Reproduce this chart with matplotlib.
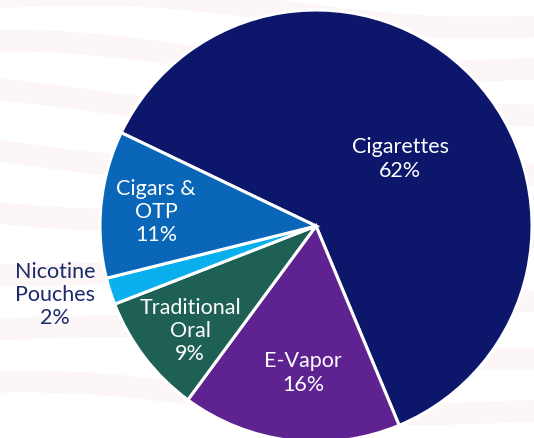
import numpy as np
import matplotlib
matplotlib.use("Agg")
import matplotlib.pyplot as plt

# ---- data ----
categories = ["Cigarettes", "E-Vapor", "Traditional\nOral", "Nicotine\nPouches", "Cigars &\nOTP"]
values = [61.6, 16.4, 9.0, 2.0, 11.0]
pct_labels = ["62%", "16%", "9%", "2%", "11%"]
colors = ["#0c176c", "#5e2390", "#1f6055", "#0ab0ee", "#0a66b8"]

# ---- layout (pixel coords, y up) ----
W, H = 534, 439
center = (316, 439 - 227)
radius = 216
label_pos = [(400, 439 - 159), (303, 439 - 373), (190, 439 - 331),
             (55, 439 - 295), (156, 439 - 212)]
label_colors = ["white", "white", "white", "#1b2a6b", "white"]

plt.rcParams['font.family'] = ['Lato', 'DejaVu Sans']

fig = plt.figure(figsize=(W / 100, H / 100), dpi=100)
ax = fig.add_axes([0, 0, 1, 1])
ax.set_xlim(0, W)
ax.set_ylim(0, H)
ax.set_aspect('equal')
ax.axis('off')

# faint flag-like stripes in background
xs = np.linspace(0, W, 200)
for k, base in enumerate([430, 380, 330, 275, 220, 160, 100, 40]):
    y0 = base + 8 * np.sin(xs / 90 + k) - xs * 0.05
    ax.fill_between(xs, y0, y0 + 22, color="#f7e4e4", alpha=0.3, lw=0, zorder=0)

wedges, _ = ax.pie(values, colors=colors, startangle=154.4, counterclock=False,
                   center=center, radius=radius, frame=True,
                   wedgeprops=dict(edgecolor="white", linewidth=2.2))
ax.set_xlim(0, W)
ax.set_ylim(0, H)
ax.axis('off')

for (cat, pct, pos, c) in zip(categories, pct_labels, label_pos, label_colors):
    ax.text(pos[0], pos[1], f"{cat}\n{pct}", ha="center", va="center",
            fontsize=15.5, color=c, linespacing=1.2, zorder=5)

fig.savefig("out.png", dpi=100)
